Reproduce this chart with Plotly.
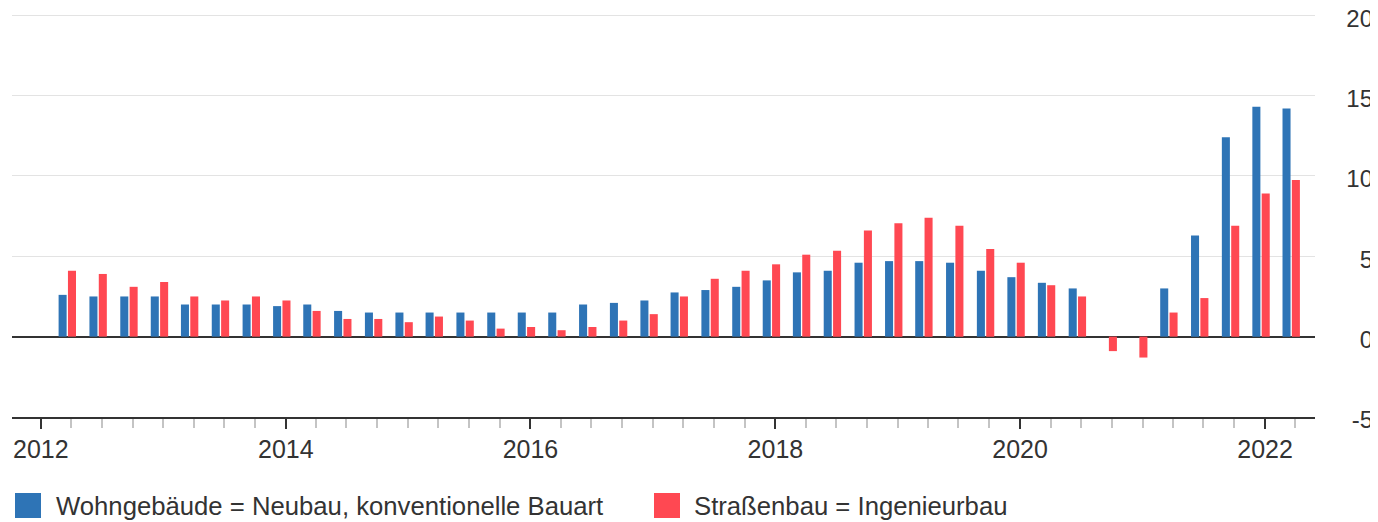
import plotly.graph_objects as go

# Quartale 2012 Q1 bis 2022 Q1
quartale = [f"{jahr}-{monat:02d}-20" for jahr in range(2012, 2023) for monat in (3, 6, 9, 12)][:41]

# Veränderung gegenüber Vorjahresquartal in %
wohngebaeude = [
    2.6, 2.5, 2.5, 2.5,
    2.0, 2.0, 2.0, 1.9,
    2.0, 1.6, 1.5, 1.5,
    1.5, 1.5, 1.5, 1.5,
    1.5, 2.0, 2.1, 2.25,
    2.75, 2.9, 3.1, 3.5,
    4.0, 4.1, 4.6, 4.7,
    4.7, 4.6, 4.1, 3.7,
    3.35, 3.0, None, None,
    3.0, 6.3, 12.4, 14.3,
    14.2,
]
strassenbau = [
    4.1, 3.9, 3.1, 3.4,
    2.5, 2.25, 2.5, 2.25,
    1.6, 1.1, 1.1, 0.9,
    1.25, 1.0, 0.5, 0.6,
    0.4, 0.6, 1.0, 1.4,
    2.5, 3.6, 4.1, 4.5,
    5.1, 5.35, 6.6, 7.05,
    7.4, 6.9, 5.45, 4.6,
    3.2, 2.5, -0.9, -1.3,
    1.5, 2.4, 6.9, 8.9,
    9.75,
]

namen = ["Wohngebäude = Neubau, konventionelle Bauart", "Straßenbau = Ingenieurbau"]
y_ticks = [-5, 0, 5, 10, 15, 20]
y_labels = ["-5", "0", "5", "10", "15", "20"]

BLAU = "#2e74b6"
ROT = "#ff4852"
TEXT = "#333333"

# die Seite hat 8px Rand, daher 1370x514
B, H = 1370, 514
L, R, T, U = 4, 2, 4, 105
pb, ph = B - L - R, H - T - U


def px(x):
    return (x - L) / pb


def py(y):
    return (H - U - y) / ph


fig = go.Figure()
fig.add_trace(go.Bar(x=quartale, y=wohngebaeude, name=namen[0], showlegend=False,
                     marker=dict(color=BLAU, line=dict(width=0))))
fig.add_trace(go.Bar(x=quartale, y=strassenbau, name=namen[1], showlegend=False,
                     marker=dict(color=ROT, line=dict(width=0))))

# Legende von Hand (größere Kästchen)
for farbe, name, x0, xt in [(BLAU, namen[0], 7, 46), (ROT, namen[1], 646, 684)]:
    fig.add_shape(type="rect", xref="paper", yref="paper",
                  x0=px(x0), x1=px(x0 + 26), y0=py(485), y1=py(510),
                  fillcolor=farbe, line=dict(width=0))
    fig.add_annotation(x=px(xt), y=py(498), xref="paper", yref="paper",
                       text=name, showarrow=False, xanchor="left", yanchor="middle",
                       font=dict(size=25.7, color=TEXT))

fig.update_layout(
    width=B, height=H,
    margin=dict(l=L, r=R, t=T, b=U, autoexpand=False),
    paper_bgcolor="white", plot_bgcolor="white",
    font=dict(family="Liberation Sans, Arial, sans-serif", size=25, color=TEXT),
    barmode="group", bargap=0.38, bargroupgap=0.14,
    showlegend=False,
    xaxis=dict(
        domain=[0, px(1307)], type="date",
        range=["2011-10-07", "2022-05-30"],
        tick0="2012-01-01", dtick="M24", tickformat="%Y",
        ticks="outside", ticklen=10, tickwidth=2, tickcolor=TEXT,
        ticklabelstandoff=-1,
        showline=True, linecolor=TEXT, linewidth=2,
        showgrid=False, zeroline=False,
        minor=dict(dtick="M3", ticks="outside", ticklen=9, tickwidth=2, tickcolor="#c4c4c4", showgrid=False),
    ),
    yaxis=dict(
        range=[-5, 20.2], tickmode="array", tickvals=y_ticks, ticktext=y_labels,
        anchor="free", position=1, side="left",
        showgrid=True, gridcolor="#e3e3e3", gridwidth=1,
        zeroline=True, zerolinecolor=TEXT, zerolinewidth=2,
        showline=False, ticks="", ticklabelstandoff=3, ticklabelshift=3,
        ticklabeloverflow="allow",
        tickfont=dict(size=24),
    ),
)

fig.write_html("out.html")
